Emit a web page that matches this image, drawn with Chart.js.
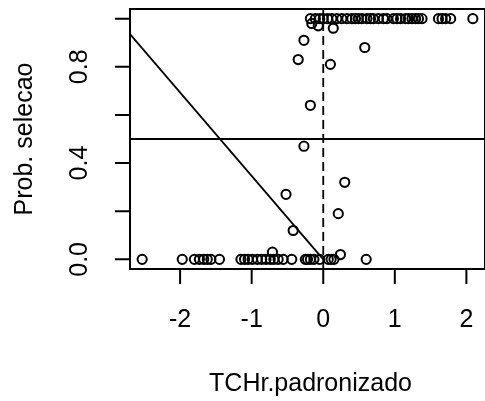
<!DOCTYPE html>
<html>
<head>
<meta charset="utf-8">
<script src="https://cdn.jsdelivr.net/npm/chart.js@4"></script>
<style>
  html, body { margin: 0; padding: 0; background: #fff; }
  #c { display: block; }
</style>
</head>
<body>
<canvas id="c" width="485" height="401"></canvas>
<script>
// axis ticks / limits (R style, 4% extension)
const xTicks = [-2, -1, 0, 1, 2];
const yTicks = [0, 0.2, 0.4, 0.6, 0.8, 1];
const yTickLabels = ['0.0', '', '0.4', '', '0.8', ''];
const xRange = [-2.70, 2.26];
const yRange = [-0.04, 1.04];

// observations selected (prob = 1)
const xSel1 = [-0.18, -0.11, -0.05, 0.00, 0.06, 0.12, 0.19, 0.26, 0.33, 0.40, 0.45,
  0.49, 0.54, 0.61, 0.66, 0.70, 0.77, 0.84, 0.89, 0.98, 1.03, 1.08, 1.15, 1.19,
  1.24, 1.29, 1.33, 1.38, 1.61, 1.66, 1.71, 1.78, 2.09];
// observations not selected (prob = 0)
const xSel0 = [-2.53, -1.97, -1.80, -1.73, -1.67, -1.62, -1.57, -1.45, -1.15, -1.10,
  -1.05, -0.99, -0.92, -0.86, -0.80, -0.74, -0.69, -0.63, -0.56, -0.44, -0.25,
  -0.22, -0.18, -0.13, -0.05, 0.07, 0.11, 0.15, 0.60];
// intermediate probabilities
const xMid = [-0.16, -0.07, 0.14, -0.27, -0.35, 0.58, 0.10, -0.18, -0.27, 0.30, -0.52, 0.21, -0.42, 0.24, -0.71];
const yMid = [0.98, 0.97, 0.96, 0.91, 0.83, 0.88, 0.81, 0.64, 0.47, 0.32, 0.27, 0.19, 0.12, 0.02, 0.03];

// reference lines
const corte = 0.5;
const zeroX = 0;
const retaX = [-2.70, 0];
const retaY = [0.936, 0];

const pontos = [
  ...xSel1.map(v => ({ x: v, y: 1 })),
  ...xSel0.map(v => ({ x: v, y: 0 })),
  ...xMid.map((v, i) => ({ x: v, y: yMid[i] })),
];

const FONT = '25px "Liberation Sans", Arial, Helvetica, sans-serif';

// draws the R-like box, ticks and labels from the chart scales
const rAxes = {
  id: 'rAxes',
  afterDraw(chart) {
    const { ctx, chartArea: a, scales: { x, y } } = chart;
    ctx.save();
    ctx.strokeStyle = '#000';
    ctx.fillStyle = '#000';
    ctx.lineWidth = 2;
    ctx.strokeRect(a.left, a.top, a.right - a.left, a.bottom - a.top);

    ctx.beginPath();
    xTicks.forEach(v => {
      const px = x.getPixelForValue(v);
      ctx.moveTo(px, a.bottom);
      ctx.lineTo(px, a.bottom + 15);
    });
    yTicks.forEach(v => {
      const py = y.getPixelForValue(v);
      ctx.moveTo(a.left, py);
      ctx.lineTo(a.left - 15, py);
    });
    ctx.stroke();

    ctx.font = FONT;
    ctx.textAlign = 'center';
    ctx.textBaseline = 'alphabetic';
    xTicks.forEach(v => ctx.fillText(String(v), x.getPixelForValue(v), 327));
    ctx.fillText('TCHr.padronizado', 310.5, 391);

    yTicks.forEach((v, i) => {
      if (!yTickLabels[i]) return;
      ctx.save();
      ctx.translate(87, y.getPixelForValue(v));
      ctx.rotate(-Math.PI / 2);
      ctx.fillText(yTickLabels[i], 0, 0);
      ctx.restore();
    });

    ctx.save();
    ctx.translate(32, (a.top + a.bottom) / 2);
    ctx.rotate(-Math.PI / 2);
    ctx.fillText('Prob. selecao', 0, 0);
    ctx.restore();
    ctx.restore();
  }
};

new Chart(document.getElementById('c'), {
  type: 'scatter',
  data: {
    datasets: [
      {
        data: pontos,
        pointStyle: 'circle',
        pointRadius: 4.6,
        pointBorderWidth: 2,
        borderColor: '#000',
        pointBorderColor: '#000',
        backgroundColor: 'rgba(0,0,0,0)',
        pointBackgroundColor: 'rgba(0,0,0,0)',
      },
      {
        data: [{ x: xRange[0], y: corte }, { x: xRange[1], y: corte }],
        showLine: true, pointRadius: 0, borderWidth: 1.8, borderColor: '#000',
      },
      {
        data: [{ x: zeroX, y: yRange[0] }, { x: zeroX, y: yRange[1] }],
        showLine: true, pointRadius: 0, borderWidth: 1.8, borderColor: '#000',
        borderDash: [9, 5],
      },
      {
        data: retaX.map((v, i) => ({ x: v, y: retaY[i] })),
        showLine: true, pointRadius: 0, borderWidth: 1.8, borderColor: '#000',
      },
    ],
  },
  options: {
    responsive: false,
    animation: false,
    events: [],
    layout: { autoPadding: false, padding: { left: 130, right: 0, top: 9, bottom: 132 } },
    plugins: { legend: { display: false }, tooltip: { enabled: false } },
    scales: {
      x: { type: 'linear', min: xRange[0], max: xRange[1], display: false },
      y: { type: 'linear', min: yRange[0], max: yRange[1], display: false },
    },
  },
  plugins: [rAxes],
});
</script>
</body>
</html>
